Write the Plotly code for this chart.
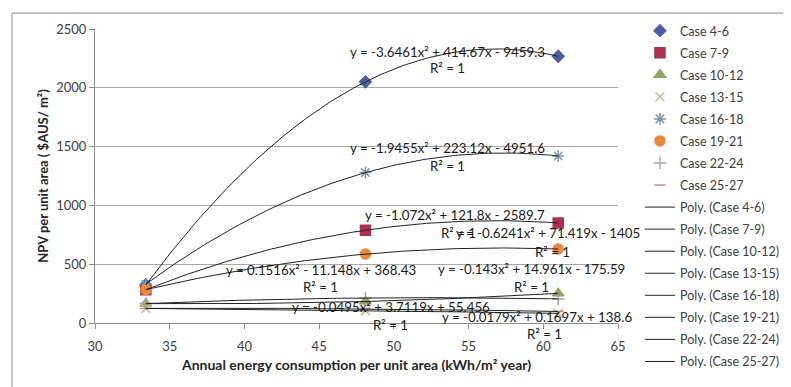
import numpy as np
import plotly.graph_objects as go

# energy consumption per unit area (kWh/m2 year) for each group of cases
energy = [33.4, 48.1, 61.0]

case_names = ["Case 4-6", "Case 7-9", "Case 10-12", "Case 13-15",
              "Case 16-18", "Case 19-21", "Case 22-24", "Case 25-27"]

# NPV per unit area ($AUS/m2)
npv_4_6 = [323, 2051, 2268]
npv_7_9 = [283, 789, 851]
npv_10_12 = [165, 183, 252]
npv_13_15 = [124, 105, 82]
npv_16_18 = [330, 1279, 1420]
npv_19_21 = [284, 586, 629]
npv_22_24 = [165, 213, 205]
npv_25_27 = [124, 120, 98]

# trendline labels as printed on the chart: (text, x, y) in data units
eq_labels = [
    ("y = -3.6461x² + 414.67x - 9459.3", 53.6, 2304),
    ("R² = 1", 53.6, 2168),
    ("y = -1.9455x² + 223.12x - 4951.6", 53.6, 1488),
    ("R² = 1", 53.6, 1335),
    ("y = -1.072x² + 121.8x - 2589.7", 54.1, 918),
    ("R² = 1", 54.3, 765),
    ("y = -0.6241x² + 71.419x - 1405", 60.3, 765),
    ("R² = 1", 60.6, 604),
    ("y = 0.1516x² - 11.148x + 368.43", 45.1, 451),
    ("R² = 1", 45.1, 306),
    ("y = -0.143x² + 14.961x - 175.59", 59.2, 459),
    ("R² = 1", 59.2, 306),
    ("y = -0.0495x² + 3.7119x + 55.456", 49.8, 136),
    ("R² = 1", 49.8, -17),
    ("y = -0.0179x² + 0.1697x + 138.6", 59.6, 51),
    ("R² = 1", 60.1, -94),
]

series = [npv_4_6, npv_7_9, npv_10_12, npv_13_15,
          npv_16_18, npv_19_21, npv_22_24, npv_25_27]
symbols = ["diamond", "square", "triangle-up", "x-thin-open",
           "asterisk-open", "circle", "cross-thin-open", "line-ew-open"]
colors = ["#4A5FA2", "#AE3050", "#94A55E", "#C9B99A",
          "#7A96AC", "#E8883A", "#A8A8A8", "#C08888"]
sizes = [9, 10, 10, 9, 10, 10, 9, 8]

FONT = "Lato"
Y_MAX = 2500

fig = go.Figure()

for i, (name, ys) in enumerate(zip(case_names, series)):
    fig.add_trace(go.Scatter(
        x=energy, y=ys, mode="markers", name=name,
        legendgroup=f"g{i}",
        marker=dict(symbol=symbols[i], color=colors[i], size=sizes[i],
                    line=dict(color=colors[i], width=1.5)),
    ))

# second order polynomial trendlines, fitted through each series
xs = np.linspace(min(energy), max(energy), 120)
for i, (name, ys) in enumerate(zip(case_names, series)):
    coef = np.polyfit(energy, ys, 2)
    fig.add_trace(go.Scatter(
        x=xs, y=np.polyval(coef, xs), mode="lines",
        name=f"Poly. ({name})", legendgroup=f"p{i}",
        line=dict(color="#222222", width=1),
    ))

# labels below the axis would be hidden in data coords, so place by paper
for text, x, y in eq_labels:
    fig.add_annotation(x=x, y=y / Y_MAX, yref="paper", text=text,
                       showarrow=False, xanchor="center", yanchor="middle",
                       font=dict(family=FONT, size=13.3, color="#1a1a1a"))

# outer chart border
fig.add_shape(type="rect", xref="paper", yref="paper",
              x0=-0.1587, x1=1.34, y0=-0.23, y1=1.054,
              line=dict(color="#8a8a8a", width=1), layer="below")

# the page body adds an 8px offset, so the figure is 8px smaller
fig.update_layout(
    width=783, height=379,
    margin=dict(l=87, r=173, t=21, b=64, autoexpand=False),
    paper_bgcolor="white", plot_bgcolor="white",
    font=dict(family=FONT, size=13, color="#404040"),
    legend=dict(x=1.042, y=1.044, xanchor="left", yanchor="top",
                traceorder="grouped", tracegroupgap=2.8, maxheight=385,
                font=dict(family=FONT, size=12.5, color="#404040"),
                bgcolor="rgba(0,0,0,0)"),
    xaxis=dict(
        range=[30, 65], dtick=5, showgrid=False, zeroline=False,
        showline=True, linecolor="#8a8a8a", linewidth=1,
        ticks="outside", ticklen=5, tickcolor="#8a8a8a", automargin=False,
        ticklabelstandoff=6,
        tickfont=dict(family=FONT, size=13, color="#404040"),
        title=dict(text="<b>Annual energy consumption per unit area (kWh/m² year)</b>",
                   font=dict(family=FONT, size=14, color="#262626"), standoff=7),
    ),
    yaxis=dict(
        range=[0, Y_MAX], dtick=500, showgrid=True, gridcolor="#a6a6a6",
        gridwidth=1, zeroline=False,
        showline=True, linecolor="#8a8a8a", linewidth=1,
        ticks="outside", ticklen=5, tickcolor="#8a8a8a", automargin=False,
        tickfont=dict(family=FONT, size=13, color="#404040"),
        title=dict(text="<b>NPV per unit area ( $AUS/ m²)</b>",
                   font=dict(family=FONT, size=13, color="#262626"), standoff=4),
    ),
)

fig.write_html("out.html")
